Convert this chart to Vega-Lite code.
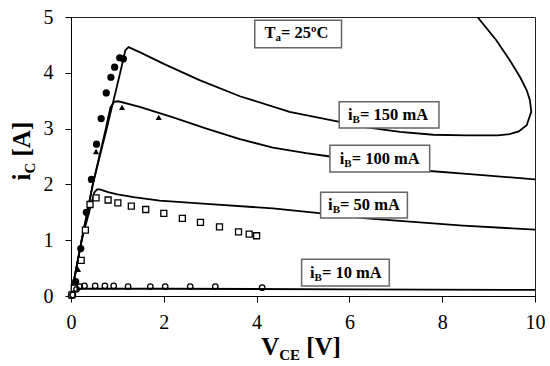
{
  "$schema": "https://vega.github.io/schema/vega-lite/v6.json",
  "width": 464,
  "height": 279,
  "autosize": {"type": "none"},
  "padding": {"left": 71, "top": 17, "right": 15, "bottom": 70},
  "background": "white",
  "config": {
    "view": {"stroke": "#222", "strokeWidth": 1},
    "axis": {
      "grid": false, "title": null, "labelFlush": false,
      "labelFont": "Liberation Serif", "labelFontSize": 20, "labelColor": "black",
      "tickColor": "black", "domainColor": "black", "tickSize": 6, "tickWidth": 1
    }
  },
  "datasets": {
    "curves": [
      {"ib": "150", "k": 1, "v": 0, "i": 0},
      {"ib": "150", "k": 2, "v": 0.23, "i": 1.0},
      {"ib": "150", "k": 3, "v": 0.47, "i": 2.0},
      {"ib": "150", "k": 4, "v": 0.77, "i": 3.0},
      {"ib": "150", "k": 5, "v": 1.06, "i": 4.0},
      {"ib": "150", "k": 6, "v": 1.17, "i": 4.40},
      {"ib": "150", "k": 7, "v": 1.24, "i": 4.46},
      {"ib": "150", "k": 8, "v": 1.48, "i": 4.37},
      {"ib": "150", "k": 9, "v": 2.0, "i": 4.16},
      {"ib": "150", "k": 10, "v": 2.77, "i": 3.87},
      {"ib": "150", "k": 11, "v": 3.64, "i": 3.58},
      {"ib": "150", "k": 12, "v": 4.71, "i": 3.30},
      {"ib": "150", "k": 13, "v": 5.79, "i": 3.12},
      {"ib": "150", "k": 14, "v": 6.37, "i": 3.02},
      {"ib": "150", "k": 15, "v": 7.09, "i": 2.94},
      {"ib": "150", "k": 16, "v": 7.81, "i": 2.89},
      {"ib": "150", "k": 17, "v": 8.53, "i": 2.88},
      {"ib": "150", "k": 18, "v": 9.2, "i": 2.88},
      {"ib": "150", "k": 19, "v": 9.45, "i": 2.90},
      {"ib": "150", "k": 20, "v": 9.65, "i": 2.95},
      {"ib": "150", "k": 21, "v": 9.82, "i": 3.06},
      {"ib": "150", "k": 22, "v": 9.92, "i": 3.30},
      {"ib": "150", "k": 23, "v": 9.89, "i": 3.51},
      {"ib": "150", "k": 24, "v": 9.82, "i": 3.69},
      {"ib": "150", "k": 25, "v": 9.68, "i": 3.92},
      {"ib": "150", "k": 26, "v": 9.46, "i": 4.22},
      {"ib": "150", "k": 27, "v": 9.17, "i": 4.58},
      {"ib": "150", "k": 28, "v": 8.76, "i": 5.0},
      {"ib": "100", "k": 1, "v": 0, "i": 0},
      {"ib": "100", "k": 2, "v": 0.23, "i": 1.0},
      {"ib": "100", "k": 3, "v": 0.47, "i": 2.0},
      {"ib": "100", "k": 4, "v": 0.75, "i": 3.0},
      {"ib": "100", "k": 5, "v": 0.85, "i": 3.38},
      {"ib": "100", "k": 6, "v": 0.93, "i": 3.48},
      {"ib": "100", "k": 7, "v": 1.02, "i": 3.49},
      {"ib": "100", "k": 8, "v": 1.48, "i": 3.39},
      {"ib": "100", "k": 9, "v": 2.2, "i": 3.20},
      {"ib": "100", "k": 10, "v": 2.92, "i": 3.0},
      {"ib": "100", "k": 11, "v": 3.64, "i": 2.81},
      {"ib": "100", "k": 12, "v": 4.35, "i": 2.66},
      {"ib": "100", "k": 13, "v": 5.07, "i": 2.56},
      {"ib": "100", "k": 14, "v": 5.58, "i": 2.50},
      {"ib": "100", "k": 15, "v": 6.7, "i": 2.35},
      {"ib": "100", "k": 16, "v": 7.73, "i": 2.24},
      {"ib": "100", "k": 17, "v": 8.53, "i": 2.19},
      {"ib": "100", "k": 18, "v": 10, "i": 2.09},
      {"ib": "50", "k": 1, "v": 0, "i": 0},
      {"ib": "50", "k": 2, "v": 0.23, "i": 1.0},
      {"ib": "50", "k": 3, "v": 0.5, "i": 1.85},
      {"ib": "50", "k": 4, "v": 0.56, "i": 1.91},
      {"ib": "50", "k": 5, "v": 0.62, "i": 1.91},
      {"ib": "50", "k": 6, "v": 0.8, "i": 1.86},
      {"ib": "50", "k": 7, "v": 1.0, "i": 1.82},
      {"ib": "50", "k": 8, "v": 1.35, "i": 1.77},
      {"ib": "50", "k": 9, "v": 1.91, "i": 1.71},
      {"ib": "50", "k": 10, "v": 2.92, "i": 1.65},
      {"ib": "50", "k": 11, "v": 4.35, "i": 1.57},
      {"ib": "50", "k": 12, "v": 5.4, "i": 1.48},
      {"ib": "50", "k": 13, "v": 6.37, "i": 1.39},
      {"ib": "50", "k": 14, "v": 8.45, "i": 1.26},
      {"ib": "50", "k": 15, "v": 10, "i": 1.19},
      {"ib": "10", "k": 1, "v": 0, "i": 0},
      {"ib": "10", "k": 2, "v": 0.08, "i": 0.08},
      {"ib": "10", "k": 3, "v": 0.18, "i": 0.13},
      {"ib": "10", "k": 4, "v": 2, "i": 0.13},
      {"ib": "10", "k": 5, "v": 6, "i": 0.12},
      {"ib": "10", "k": 6, "v": 10, "i": 0.11}
    ],
    "points": [
      {"s": "150", "v": 0.01, "i": 0.01}, {"s": "150", "v": 0.10, "i": 0.26},
      {"s": "150", "v": 0.21, "i": 0.85}, {"s": "150", "v": 0.33, "i": 1.50},
      {"s": "150", "v": 0.44, "i": 2.09}, {"s": "150", "v": 0.55, "i": 2.72},
      {"s": "150", "v": 0.65, "i": 3.18}, {"s": "150", "v": 0.76, "i": 3.64},
      {"s": "150", "v": 0.86, "i": 3.92}, {"s": "150", "v": 0.94, "i": 4.10},
      {"s": "150", "v": 1.05, "i": 4.27}, {"s": "150", "v": 1.13, "i": 4.25},
      {"s": "100", "v": 0.03, "i": 0.03}, {"s": "100", "v": 0.15, "i": 0.48},
      {"s": "100", "v": 0.54, "i": 2.59}, {"s": "100", "v": 1.10, "i": 3.38},
      {"s": "100", "v": 1.89, "i": 3.20},
      {"s": "50", "v": 0.02, "i": 0.02}, {"s": "50", "v": 0.07, "i": 0.14},
      {"s": "50", "v": 0.22, "i": 0.64}, {"s": "50", "v": 0.31, "i": 1.18},
      {"s": "50", "v": 0.41, "i": 1.64}, {"s": "50", "v": 0.54, "i": 1.76},
      {"s": "50", "v": 0.80, "i": 1.72}, {"s": "50", "v": 1.01, "i": 1.67},
      {"s": "50", "v": 1.30, "i": 1.61}, {"s": "50", "v": 1.61, "i": 1.55},
      {"s": "50", "v": 2.0, "i": 1.48}, {"s": "50", "v": 2.40, "i": 1.39},
      {"s": "50", "v": 2.79, "i": 1.32}, {"s": "50", "v": 3.20, "i": 1.24},
      {"s": "50", "v": 3.61, "i": 1.15}, {"s": "50", "v": 3.84, "i": 1.11},
      {"s": "50", "v": 4.0, "i": 1.08},
      {"s": "10", "v": 0.04, "i": 0.02}, {"s": "10", "v": 0.12, "i": 0.12},
      {"s": "10", "v": 0.19, "i": 0.17}, {"s": "10", "v": 0.29, "i": 0.18},
      {"s": "10", "v": 0.52, "i": 0.18}, {"s": "10", "v": 0.73, "i": 0.18},
      {"s": "10", "v": 0.92, "i": 0.18}, {"s": "10", "v": 1.23, "i": 0.17},
      {"s": "10", "v": 1.71, "i": 0.17}, {"s": "10", "v": 2.03, "i": 0.17},
      {"s": "10", "v": 2.57, "i": 0.17}, {"s": "10", "v": 3.11, "i": 0.17},
      {"s": "10", "v": 4.12, "i": 0.15}
    ],
    "labels": [
      {"kind": "ib", "x1": 5.78, "x2": 7.93, "y1": 3.01, "y2": 3.48, "tx": 5.97, "ty": 3.16, "main": "i", "sub": "B", "rest": "= 150 mA"},
      {"kind": "ib", "x1": 5.58, "x2": 7.73, "y1": 2.22, "y2": 2.70, "tx": 5.79, "ty": 2.37, "main": "i", "sub": "B", "rest": "= 100 mA"},
      {"kind": "ib", "x1": 5.38, "x2": 7.25, "y1": 1.40, "y2": 1.86, "tx": 5.54, "ty": 1.54, "main": "i", "sub": "B", "rest": "= 50 mA"},
      {"kind": "ib", "x1": 4.97, "x2": 6.86, "y1": 0.18, "y2": 0.66, "tx": 5.15, "ty": 0.33, "main": "i", "sub": "B", "rest": "= 10 mA"},
      {"kind": "ta", "x1": 3.96, "x2": 5.83, "y1": 4.45, "y2": 4.94, "tx": 4.17, "ty": 4.63, "main": "T", "sub": "a", "rest": "= 25ºC"}
    ]
  },
  "layer": [
    {
      "data": {"name": "curves"},
      "mark": {"type": "line", "color": "black", "strokeWidth": 1.8, "clip": true},
      "encoding": {
        "x": {"field": "v", "type": "quantitative", "scale": {"domain": [0, 10], "nice": false},
              "axis": {"values": [0, 2, 4, 6, 8, 10], "labelPadding": 10}},
        "y": {"field": "i", "type": "quantitative", "scale": {"domain": [0, 5], "nice": false},
              "axis": {"values": [0, 1, 2, 3, 4, 5], "labelPadding": 12}},
        "detail": {"field": "ib"},
        "order": {"field": "k", "type": "quantitative"}
      }
    },
    {
      "data": {"name": "points"},
      "transform": [{"filter": "datum.s === '150'"}],
      "mark": {"type": "point", "shape": "circle", "filled": true, "color": "black", "size": 52, "opacity": 1},
      "encoding": {"x": {"field": "v", "type": "quantitative"}, "y": {"field": "i", "type": "quantitative"}}
    },
    {
      "data": {"name": "points"},
      "transform": [{"filter": "datum.s === '100'"}],
      "mark": {"type": "point", "shape": "triangle-up", "filled": true, "color": "black", "size": 38, "opacity": 1},
      "encoding": {"x": {"field": "v", "type": "quantitative"}, "y": {"field": "i", "type": "quantitative"}}
    },
    {
      "data": {"name": "points"},
      "transform": [{"filter": "datum.s === '50'"}],
      "mark": {"type": "point", "shape": "square", "filled": false, "color": "black", "fill": "white", "size": 36, "strokeWidth": 1.3, "opacity": 1},
      "encoding": {"x": {"field": "v", "type": "quantitative"}, "y": {"field": "i", "type": "quantitative"}}
    },
    {
      "data": {"name": "points"},
      "transform": [{"filter": "datum.s === '10'"}],
      "mark": {"type": "point", "shape": "circle", "filled": false, "color": "black", "size": 30, "strokeWidth": 1.3, "opacity": 1},
      "encoding": {"x": {"field": "v", "type": "quantitative"}, "y": {"field": "i", "type": "quantitative"}}
    },
    {
      "data": {"name": "labels"},
      "mark": {"type": "rect", "fill": "white", "stroke": "#666", "strokeWidth": 1.5},
      "encoding": {
        "x": {"field": "x1", "type": "quantitative"}, "x2": {"field": "x2"},
        "y": {"field": "y1", "type": "quantitative"}, "y2": {"field": "y2"}
      }
    },
    {
      "data": {"name": "labels"},
      "mark": {"type": "text", "font": "Liberation Serif", "fontWeight": "bold", "fontSize": 16.5, "align": "left", "baseline": "alphabetic", "color": "black"},
      "encoding": {
        "x": {"field": "tx", "type": "quantitative"}, "y": {"field": "ty", "type": "quantitative"},
        "text": {"field": "main"}
      }
    },
    {
      "data": {"name": "labels"},
      "transform": [{"filter": "datum.kind === 'ib'"}],
      "mark": {"type": "text", "font": "Liberation Serif", "fontWeight": "bold", "fontSize": 11, "align": "left", "baseline": "alphabetic", "color": "black", "dx": 4.6, "dy": 3},
      "encoding": {
        "x": {"field": "tx", "type": "quantitative"}, "y": {"field": "ty", "type": "quantitative"},
        "text": {"field": "sub"}
      }
    },
    {
      "data": {"name": "labels"},
      "transform": [{"filter": "datum.kind === 'ib'"}],
      "mark": {"type": "text", "font": "Liberation Serif", "fontWeight": "bold", "fontSize": 16.5, "align": "left", "baseline": "alphabetic", "color": "black", "dx": 12},
      "encoding": {
        "x": {"field": "tx", "type": "quantitative"}, "y": {"field": "ty", "type": "quantitative"},
        "text": {"field": "rest"}
      }
    },
    {
      "data": {"name": "labels"},
      "transform": [{"filter": "datum.kind === 'ta'"}],
      "mark": {"type": "text", "font": "Liberation Serif", "fontWeight": "bold", "fontSize": 11, "align": "left", "baseline": "alphabetic", "color": "black", "dx": 11, "dy": 3},
      "encoding": {
        "x": {"field": "tx", "type": "quantitative"}, "y": {"field": "ty", "type": "quantitative"},
        "text": {"field": "sub"}
      }
    },
    {
      "data": {"name": "labels"},
      "transform": [{"filter": "datum.kind === 'ta'"}],
      "mark": {"type": "text", "font": "Liberation Serif", "fontWeight": "bold", "fontSize": 16.5, "align": "left", "baseline": "alphabetic", "color": "black", "dx": 16.5},
      "encoding": {
        "x": {"field": "tx", "type": "quantitative"}, "y": {"field": "ty", "type": "quantitative"},
        "text": {"field": "rest"}
      }
    },
    {
      "data": {"values": [{}]},
      "mark": {"type": "text", "text": "V", "font": "Liberation Serif", "fontWeight": "bold", "fontSize": 25, "align": "left", "baseline": "alphabetic", "color": "black", "dy": 59},
      "encoding": {"x": {"datum": 4.1, "type": "quantitative"}, "y": {"datum": 0, "type": "quantitative"}}
    },
    {
      "data": {"values": [{}]},
      "mark": {"type": "text", "text": "CE", "font": "Liberation Serif", "fontWeight": "bold", "fontSize": 15, "align": "left", "baseline": "alphabetic", "color": "black", "dx": 18, "dy": 64},
      "encoding": {"x": {"datum": 4.1, "type": "quantitative"}, "y": {"datum": 0, "type": "quantitative"}}
    },
    {
      "data": {"values": [{}]},
      "mark": {"type": "text", "text": "[V]", "font": "Liberation Serif", "fontWeight": "bold", "fontSize": 25, "align": "left", "baseline": "alphabetic", "color": "black", "dx": 45, "dy": 59},
      "encoding": {"x": {"datum": 4.1, "type": "quantitative"}, "y": {"datum": 0, "type": "quantitative"}}
    },
    {
      "data": {"values": [{}]},
      "mark": {"type": "text", "text": "i", "angle": 270, "font": "Liberation Serif", "fontWeight": "bold", "fontSize": 25, "align": "left", "baseline": "alphabetic", "color": "black", "dy": -41},
      "encoding": {"x": {"datum": 0, "type": "quantitative"}, "y": {"datum": 2.07, "type": "quantitative"}}
    },
    {
      "data": {"values": [{}]},
      "mark": {"type": "text", "text": "C", "angle": 270, "font": "Liberation Serif", "fontWeight": "bold", "fontSize": 15, "align": "left", "baseline": "alphabetic", "color": "black", "dx": 7, "dy": -36.5},
      "encoding": {"x": {"datum": 0, "type": "quantitative"}, "y": {"datum": 2.07, "type": "quantitative"}}
    },
    {
      "data": {"values": [{}]},
      "mark": {"type": "text", "text": "[A]", "angle": 270, "font": "Liberation Serif", "fontWeight": "bold", "fontSize": 25, "align": "left", "baseline": "alphabetic", "color": "black", "dx": 24, "dy": -41},
      "encoding": {"x": {"datum": 0, "type": "quantitative"}, "y": {"datum": 2.07, "type": "quantitative"}}
    }
  ]
}
